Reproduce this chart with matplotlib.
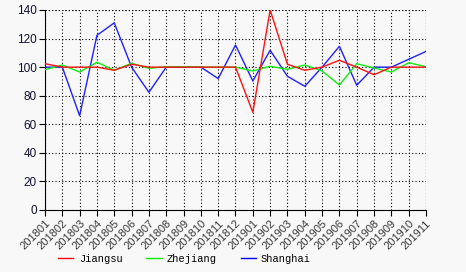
import matplotlib
matplotlib.use("Agg")
import matplotlib.pyplot as plt

months = ["201801", "201802", "201803", "201804", "201805", "201806", "201807",
          "201808", "201809", "201810", "201811", "201812", "201901", "201902",
          "201903", "201904", "201905", "201906", "201907", "201908", "201909",
          "201910", "201911"]

jiangsu = [102.4, 100, 100, 100, 97.8, 102, 100, 100, 100, 100, 100, 100,
           68.4, 140, 102, 97.8, 100, 104.8, 100, 94.7, 100, 100, 100]
zhejiang = [98.2, 101.5, 96.6, 103.4, 97.8, 102.7, 99.2, 100.3, 100.3, 100, 100, 100,
            97.3, 100.6, 98.5, 101.5, 97.3, 87.5, 102.4, 99.4, 96.6, 103.1, 100.3]
shanghai = [100, 100, 66, 122.3, 131, 100, 82.4, 100, 100, 100, 92, 115.5,
            90.3, 111.8, 93.6, 86.6, 100, 114.6, 87.3, 100, 100, 105.5, 111]

fig = plt.figure(figsize=(4.66, 2.72), dpi=100, facecolor="#f8f8f8")
ax = fig.add_axes([45 / 466, 62 / 272, 381 / 466, 200 / 272])
ax.set_facecolor("#f8f8f8")

x = range(len(months))
l3, = ax.plot(x, shanghai, color="#2222ff", lw=1.0, label="Shanghai", zorder=3)
l2, = ax.plot(x, zhejiang, color="#11ee11", lw=1.0, label="Zhejiang", zorder=4)
l1, = ax.plot(x, jiangsu, color="#ff1111", lw=1.0, label="Jiangsu", zorder=5)

ax.set_xlim(0, len(months) - 1)
ax.set_ylim(0, 140)
ax.set_yticks(range(0, 141, 20))
ax.set_yticklabels([str(v) for v in range(0, 141, 20)],
                   fontfamily="Liberation Sans", fontsize=8.5, color="#101030")
ax.set_xticks(list(x))
ax.set_xticklabels(months, rotation=45, ha="right", rotation_mode="anchor",
                   fontfamily="Liberation Sans", fontsize=8, color="#383838")
ax.tick_params(axis="y", length=4, pad=2)
ax.tick_params(axis="x", length=4, pad=2)

ax.grid(True, color="black", linestyle=(0, (1, 2)), lw=0.8)
for s in ["top", "right"]:
    ax.spines[s].set_visible(False)
ax.axhline(140, color="black", linestyle=(0, (1, 2)), lw=0.8)
ax.axvline(len(months) - 1, color="black", linestyle=(0, (1, 2)), lw=0.8)

legend_handles = [
    plt.Line2D([], [], color="#ff0000", lw=1.0),
    plt.Line2D([], [], color="#00ee00", lw=1.0),
    plt.Line2D([], [], color="#0000ee", lw=1.0),
]
fig.legend(legend_handles, ["Jiangsu", "Zhejiang", "Shanghai"],
           loc="center left", bbox_to_anchor=(49 / 466, 13 / 272),
           ncol=3, frameon=False, handlelength=1.45, handletextpad=0.5,
           columnspacing=2.3, borderpad=0.4,
           prop={"family": "Liberation Mono", "size": 7.5})

fig.savefig("out.png", dpi=100, facecolor=fig.get_facecolor())
